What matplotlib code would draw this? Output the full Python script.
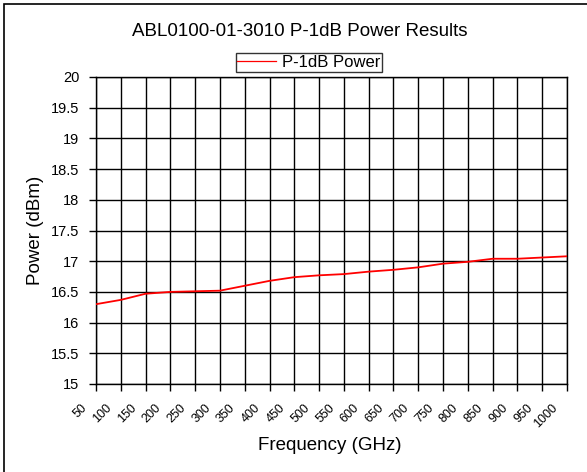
import matplotlib
matplotlib.use('Agg')
import matplotlib.pyplot as plt
import matplotlib.transforms as mtransforms
from matplotlib.patches import Rectangle

plt.rcParams['font.family'] = ['Liberation Sans', 'DejaVu Sans']

TITLE = 'ABL0100-01-3010 P-1dB Power Results'
SERIES_NAME = 'P-1dB Power'
frequencies = ['50', '100', '150', '200', '250', '300', '350', '400', '450', '500',
               '550', '600', '650', '700', '750', '800', '850', '900', '950', '1000']
power = [16.30, 16.37, 16.47, 16.50, 16.51, 16.52, 16.60, 16.68, 16.74, 16.77,
         16.79, 16.83, 16.86, 16.90, 16.96, 16.99, 17.04, 17.04, 17.06, 17.08]
y_ticks = [15, 15.5, 16, 16.5, 17, 17.5, 18, 18.5, 19, 19.5, 20]
y_tick_labels = ['15', '15.5', '16', '16.5', '17', '17.5', '18', '18.5', '19', '19.5', '20']

W, H = 587, 472
fig = plt.figure(figsize=(W / 100, H / 100), dpi=100)
ax = fig.add_axes([96 / W, 1 - 384 / H, (567 - 96) / W, (384 - 77) / H])

x = list(range(len(frequencies)))
ax.plot(x, power, color='red', linewidth=1.3, label=SERIES_NAME, zorder=3)

ax.set_xlim(0, len(frequencies) - 1)
ax.set_ylim(15, 20)
ax.set_xticks(x)
ax.set_xticklabels(frequencies, rotation=45, ha='right', va='top', fontsize=9)
ax.set_yticks(y_ticks)
ax.set_yticklabels(y_tick_labels, fontsize=10.5)
ax.tick_params(axis='both', direction='out', length=5, width=1, color='black')
ax.tick_params(axis='y', pad=7)
ax.tick_params(axis='x', pad=8)

# shift rotated labels a bit left like excel does
offset = mtransforms.ScaledTranslation(-7 / 100, 0, fig.dpi_scale_trans)
for lbl in ax.get_xticklabels():
    lbl.set_transform(lbl.get_transform() + offset)

ax.grid(True, color='black', linewidth=1.0)
ax.set_axisbelow(True)
for sp in ax.spines.values():
    sp.set_color('black')
    sp.set_linewidth(1.0)

ax.set_xlabel('Frequency (GHz)', fontsize=13.5)
ax.set_ylabel('Power (dBm)', fontsize=13.5)
ax.xaxis.set_label_coords((330 - 96) / 471, -(445 - 384) / 307)
ax.xaxis.label.set_va('center')
ax.yaxis.set_label_coords((35 - 96) / 471, 0.5)
ax.yaxis.label.set_va('center')

fig.text(300 / W, 1 - 31 / H, TITLE, ha='center', va='center', fontsize=13.5)

leg = fig.legend(loc='center', bbox_to_anchor=(309 / W, 1 - 62.5 / H), fontsize=12,
                 frameon=True, fancybox=False, handlelength=2.3, handletextpad=0.4,
                 borderpad=0.1, borderaxespad=0)
leg.get_frame().set_edgecolor('black')
leg.get_frame().set_linewidth(1.0)
for h in leg.get_lines():
    h.set_linewidth(0.9)

# outer chart border (left/top visible, rest cropped off)
fig.patches.append(Rectangle((4 / W, -0.1), 1.2, 1 - 4 / H + 0.1, transform=fig.transFigure,
                             fill=False, edgecolor='black', linewidth=1.2))

fig.savefig('out.png', dpi=100)
